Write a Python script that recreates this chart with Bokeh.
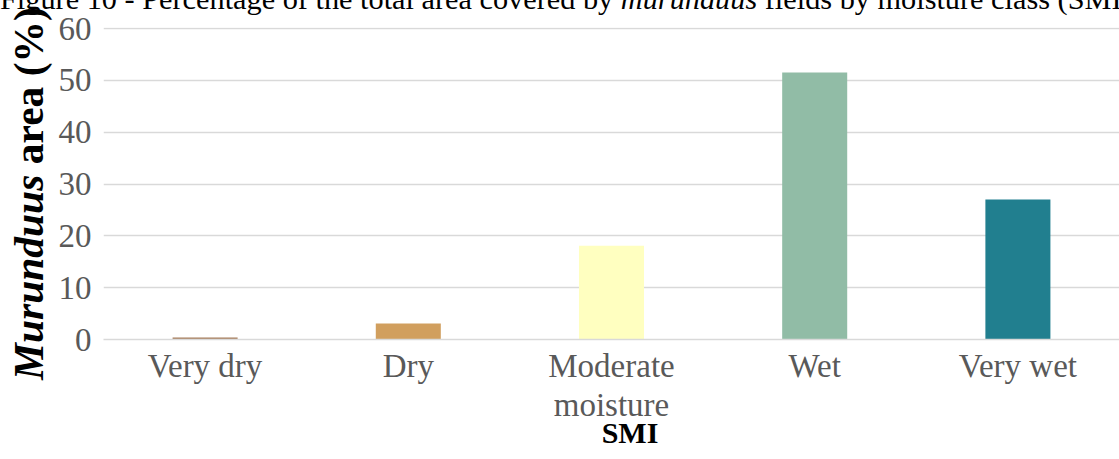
from bokeh.plotting import figure
from bokeh.models import ColumnDataSource, FactorRange, Range1d, FixedTicker, Div
from bokeh.layouts import column
from bokeh.embed import file_html
from bokeh.resources import INLINE

# ---- data ----
categories = ["Very dry", "Dry", "Moderate\nmoisture", "Wet", "Very wet"]
area_pct = [0.4, 3.1, 18.1, 51.5, 27.0]
bar_colors = ["#A67C5B", "#D19F5E", "#FFFFC0", "#91BCA6", "#217F8F"]
y_ticks = [0, 10, 20, 30, 40, 50, 60]

title_html = ("Figure 10 - Percentage of the total area covered by "
              "<i>murunduus</i> fields by moisture class (SMI)")
ylabel_html = "<i>Murunduus</i> area (%)"
xlabel = "SMI"

SERIF = "'Liberation Serif', 'Times New Roman', serif"
FONT = "Liberation Serif"
W, H = 1119, 459

# ---- chart ----
src = ColumnDataSource(dict(cat=categories, val=area_pct, col=bar_colors))
p = figure(width=W, height=H,
           x_range=FactorRange(*categories, range_padding=0),
           y_range=Range1d(0, 60.2), output_backend="svg", toolbar_location=None,
           min_border_left=103, min_border_right=0,
           min_border_top=27, min_border_bottom=H - 339, margin=0)
p.outline_line_color = None
p.background_fill_color = "white"
p.border_fill_color = "white"

p.vbar(x="cat", top="val", width=0.32, color="col", source=src, line_color=None)

p.yaxis.ticker = FixedTicker(ticks=y_ticks)
p.yaxis.axis_line_color = None
p.yaxis.major_tick_line_color = None
p.yaxis.minor_tick_line_color = None
p.yaxis.major_label_text_font = FONT
p.yaxis.major_label_text_font_size = "33px"
p.yaxis.major_label_text_color = "#595959"
p.yaxis.major_label_standoff = 6

p.xaxis.axis_line_color = "#D9D9D9"
p.xaxis.axis_line_width = 1.5
p.xaxis.major_tick_line_color = None
p.xaxis.minor_tick_line_color = None
p.xaxis.major_label_text_font = FONT
p.xaxis.major_label_text_font_size = "33px"
p.xaxis.major_label_text_color = "#595959"
p.xaxis.major_label_standoff = 2
p.xaxis.major_label_text_line_height = 1.1

p.xgrid.grid_line_color = None
p.ygrid.grid_line_color = "#D9D9D9"
p.ygrid.grid_line_width = 1.5

# ---- text overlay: title (cut at the top as in the reference), y label, x label ----
overlay_html = (
    f'<div style="position:relative; width:{W}px; height:{H}px; font-family:{SERIF}; color:#000;">'
    f'<div style="position:absolute; left:0px; top:-16px; white-space:nowrap; '
    f'font-size:30.3px; line-height:30px;">{title_html}</div>'
    f'<div style="position:absolute; left:8px; top:380px; width:max-content; white-space:nowrap; '
    f'transform:rotate(-90deg); transform-origin:0 0; font-weight:bold; '
    f'font-size:41.5px; line-height:42px;">{ylabel_html}</div>'
    f'<div style="position:absolute; left:630px; top:418px; white-space:nowrap; '
    f'transform:translateX(-50%); font-weight:bold; font-size:30px; line-height:30px;">'
    f'{xlabel}</div>'
    f'</div>'
)
overlay = Div(text=overlay_html, width=W, height=H, margin=(-H, 0, 0, 0),
              styles={"overflow": "visible", "pointer-events": "none"})

layout = column(p, overlay, spacing=0)

open("out.html", "w").write(file_html(layout, INLINE))
